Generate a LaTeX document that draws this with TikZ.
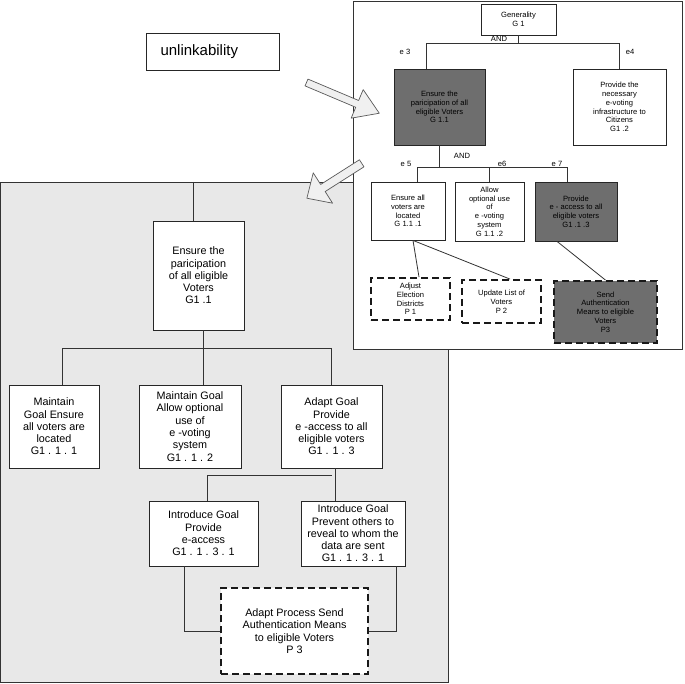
\documentclass[tikz,border=0pt]{standalone}
\usepackage{fontspec}
\setmainfont{Liberation Sans}
\newcommand{\treefontL}{\fontsize{10.8}{12.3}\selectfont}
\newcommand{\treefontS}{\fontsize{7.6}{8.8}\selectfont}

\tikzset{
  goalbox/.style={draw=black!85, line width=0.8pt, fill=white, align=center, inner sep=0pt, font=\treefontL},
  smallgoal/.style={goalbox, font=\treefontS},
  darkgoal/.style={smallgoal, fill=black!57},
  procbox/.style={goalbox, dashed, dash pattern=on 7pt off 4pt, line width=1.8pt, draw=black!90},
  link/.style={draw=black!80, line width=0.8pt},
  edgelabel/.style={font=\treefontS, inner sep=0pt},
  bigarrow/.style={draw=black!65, fill=black!6, line width=0.7pt, line join=round},
}

\begin{document}
\begin{tikzpicture}[x=1pt,y=-1pt]
\useasboundingbox (0,0) rectangle (685,684);

% left panel (refined tree)
\draw[fill=black!9, draw=black!80, line width=0.8pt] (0.5,182) rectangle (448,682);

\node[goalbox, minimum width=91, minimum height=109] (lbig) at (198.5,275.5) {Ensure the\\paricipation\\of all eligible\\Voters\\G1 .1};
\node[goalbox, minimum width=90, minimum height=83] (lb1) at (54,426.5) {Maintain\\Goal Ensure\\all voters are\\located\\G1 . 1 . 1};
\node[goalbox, minimum width=102, minimum height=83] (lb2) at (190,426.5) {Maintain Goal\\Allow optional\\use of\\e -voting\\system\\G1 . 1 . 2};
\node[goalbox, minimum width=101, minimum height=83] (lb3) at (331.5,426.5) {Adapt Goal\\Provide\\e -access to all\\eligible voters\\G1 . 1 . 3};
\node[goalbox, minimum width=109, minimum height=65] (lc1) at (203.5,533.5) {Introduce Goal\\Provide\\e-access\\G1 . 1 . 3 . 1};
\node[goalbox, minimum width=104, minimum height=65] (lc2) at (353,533.5) {Introduce Goal\\Prevent others to\\reveal to whom the\\data are sent\\G1 . 1 . 3 . 1};
\node[procbox, minimum width=147, minimum height=86] (lp3) at (294.5,631) {Adapt Process Send\\Authentication Means\\to eligible Voters\\P 3};

\coordinate (ltop) at (193,182);
\draw[link] (ltop) -- (lbig.north -| ltop);
\draw[link] (lbig.south -| 203,0) -- ++(0,18) coordinate (barL);
\draw[link] (lb1.north -| 62,0) |- (barL) -| (lb3.north);
\draw[link] (lb2.north -| barL) -- (barL);
\draw[link] (lb3.south -| 335,0) -- (lc2.north -| 335,0);
\draw[link] (lc1.north -| 207,0) |- (lb3.south |- 335,475);
\draw[link] (lc1.south -| 184,0) |- (lp3.west);
\draw[link] (lc2.south -| 396,0) |- (lp3.east);

% right panel (original tree)
\draw[fill=white, draw=black!80, line width=0.8pt] (353,1) rectangle (682,349);

\node[smallgoal, minimum width=75, minimum height=31] (gen) at (518.5,19.5) {Generality\\G 1};
\node[darkgoal, minimum width=91, minimum height=76] (t11) at (439.5,107) {Ensure the\\paricipation of all\\eligible Voters\\G 1.1};
\node[smallgoal, minimum width=93, minimum height=76] (t12) at (619.5,107) {Provide the\\necessary\\e-voting\\infrastructure to\\Citizens\\G1 .2};
\node[smallgoal, minimum width=74, minimum height=58] (t111) at (408,211) {Ensure all\\voters are\\located\\G 1.1 .1};
\node[smallgoal, minimum width=69, minimum height=59] (t112) at (489.5,211.5) {Allow\\optional use\\of\\e -voting\\system\\G 1.1 .2};
\node[darkgoal, minimum width=82, minimum height=59] (t113) at (576,211.5) {Provide\\e - access to all\\eligible voters\\G1 .1 .3};
\node[procbox, font=\treefontS, minimum width=79, minimum height=42] (tp1) at (410.5,299) {Adjust\\Election\\Districts\\P 1};
\node[procbox, font=\treefontS, minimum width=79, minimum height=43] (tp2) at (501.5,301.5) {Update List of\\Voters\\P 2};
\node[procbox, font=\treefontS, fill=black!57, minimum width=103, minimum height=62] (tp3) at (605.5,312) {Send\\Authentication\\Means to eligible\\Voters\\P3};

\draw[link] (gen.south) -- ++(0,8) coordinate (andA);
\draw[link] (t11.north -| 426,0) |- (andA) -| (t12.north);
\draw[link] (t11.south) -- ++(0,22) coordinate (andB);
\draw[link] (t111.north -| 417,0) |- (andB) -| (t113.north -| 567,0);
\draw[link] (t112.north) -- (t112.north |- andB);
\draw[link] (t111.south -| 413,0) -- (tp1.north -| 419,0);
\draw[link] (t111.south -| 413,0) -- (tp2.north -| 510,0);
\draw[link] (t113.south -| 557,0) -- (tp3.north);

\node[edgelabel] (and1) at (499,39) {AND};
\node[edgelabel] (and2) at (462,156) {AND};
\node[edgelabel] (e3) at (405,52) {e 3};
\node[edgelabel] (e4) at (630,52) {e4};
\node[edgelabel] (e5) at (406,164) {e 5};
\node[edgelabel] (e6) at (502,164) {e6};
\node[edgelabel] (e7) at (557,164) {e 7};

% property
\node[draw=black!85, line width=0.8pt, minimum width=133, minimum height=37, text width=104, inner xsep=14.5, align=left, font=\fontsize{15}{18}\selectfont] (prop) at (212.5,51.5) {unlinkability};

% refinement arrows
\begin{scope}[shift={(306.5,82.5)}, rotate=-22.9]
  \draw[bigarrow] (0,-3.7) -- (55,-3.7) -- (55,-15.5) -- (79,0) -- (55,15.5) -- (55,3.7) -- (0,3.7) -- cycle;
\end{scope}
\begin{scope}[shift={(361.7,163.3)}, rotate=-147.5]
  \draw[bigarrow] (0,-4.2) -- (46,-4.2) -- (46,-18) -- (65,0) -- (46,18) -- (46,4.2) -- (0,4.2) -- cycle;
\end{scope}
\end{tikzpicture}
\end{document}
